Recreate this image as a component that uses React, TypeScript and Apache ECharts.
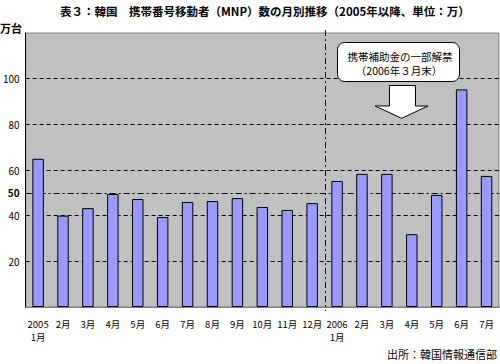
import React, { useEffect, useRef } from "react";
import * as echarts from "echarts";

const categories = [
  "2005\n1月", "2月", "3月", "4月", "5月", "6月", "7月", "8月", "9月", "10月", "11月", "12月",
  "2006\n1月", "2月", "3月", "4月", "5月", "6月", "7月",
];
const values = [
  64.9, 40, 43.3, 49.5, 47.3, 39.4, 46.0, 46.4, 47.7, 43.8, 42.5, 45.5,
  55.2, 58.3, 58.3, 31.9, 49.1, 95.3, 57.4,
];
const yLabelValues = [20, 40, 50, 60, 80, 100];
const dashedGridValues = [20, 40, 60, 80, 100];
const dashDotGridValues = [50];

const FONT = "'Noto Sans CJK JP', 'Noto Sans', sans-serif";

export default function App() {
  const ref = useRef<HTMLDivElement>(null);
  useEffect(() => {
    if (!ref.current) return;
    const chart = echarts.init(ref.current, undefined, { renderer: "svg" });
    chart.setOption({
      animation: false,
      backgroundColor: "#ffffff",
      textStyle: { fontFamily: FONT },
      title: {
        text: "表３：韓国　携帯番号移動者（MNP）数の月別推移（2005年以降、単位：万）",
        left: 55,
        top: 0,
        textStyle: { fontSize: 11.5, fontWeight: "bold", color: "#000", fontFamily: FONT },
      },
      grid: {
        left: 23,
        right: 1,
        top: 33,
        bottom: 57,
        show: true,
        backgroundColor: "#C0C0C0",
        borderColor: "#808080",
        borderWidth: 1,
      },
      xAxis: {
        type: "category",
        data: categories,
        axisLine: { lineStyle: { color: "#808080" } },
        axisTick: { show: false },
        axisLabel: {
          interval: 0,
          fontSize: 9.5,
          lineHeight: 13,
          margin: 10,
          color: "#000",
          fontFamily: FONT,
        },
      },
      yAxis: {
        type: "value",
        min: 0,
        max: 120,
        interval: 10,
        axisLine: { show: true, lineStyle: { color: "#000" } },
        axisTick: { show: false },
        splitLine: { show: false },
        axisLabel: {
          margin: 6,
          fontSize: 10,
          color: "#000",
          fontFamily: FONT,
          formatter: (v: number) =>
            yLabelValues.includes(v) ? (v === 50 ? "{b|50}" : String(v)) : "",
          rich: { b: { fontWeight: "bold", fontSize: 10, fontFamily: FONT } },
        },
      },
      series: [
        {
          type: "bar",
          data: values,
          barWidth: "46%",
          itemStyle: { color: "#9999FF", borderColor: "#000", borderWidth: 1 },
          markLine: {
            silent: true,
            z: 1,
            symbol: "none",
            label: { show: false },
            data: [
              ...dashedGridValues.map((v) => ({
                yAxis: v,
                lineStyle: { color: "#000", type: [4, 3], width: 1 },
              })),
              ...dashDotGridValues.map((v) => ({
                yAxis: v,
                lineStyle: { color: "#000", type: [6, 3, 2, 3], width: 1 },
              })),
            ],
          },
        },
      ],
    });

    const x1 = chart.convertToPixel({ xAxisIndex: 0 }, 11) as number;
    const x2 = chart.convertToPixel({ xAxisIndex: 0 }, 12) as number;
    const xs = Math.round((x1 + x2) / 2) + 0.5;

    chart.setOption({
      graphic: [
        {
          type: "line",
          shape: { x1: xs, y1: 30, x2: xs, y2: 311 },
          style: { stroke: "#000", lineWidth: 1, lineDash: [6, 3, 2, 3] },
          z: 10,
        },
        {
          type: "text",
          left: 0,
          top: 22,
          style: {
            text: "万台",
            fontSize: 11,
            fontWeight: "bold",
            fill: "#000",
            fontFamily: FONT,
          },
        },
        {
          type: "rect",
          shape: { x: 337.5, y: 42.5, width: 122, height: 39, r: 7 },
          style: { fill: "#fff", stroke: "#000", lineWidth: 1 },
          z: 20,
        },
        {
          type: "text",
          x: 400,
          y: 56,
          style: {
            text: "携帯補助金の一部解禁",
            fontSize: 10.5,
            fill: "#000",
            align: "center",
            verticalAlign: "middle",
            fontFamily: FONT,
          },
          z: 21,
        },
        {
          type: "text",
          x: 399,
          y: 70,
          style: {
            text: "（2006年３月末）",
            fontSize: 10.5,
            fill: "#000",
            align: "center",
            verticalAlign: "middle",
            fontFamily: FONT,
          },
          z: 21,
        },
        {
          type: "polygon",
          shape: {
            points: [
              [389.5, 85.5],
              [415.5, 85.5],
              [415.5, 106],
              [428, 106],
              [401.7, 118.3],
              [375, 106],
              [389.5, 106],
            ],
          },
          style: { fill: "#fff", stroke: "#000", lineWidth: 1 },
          z: 20,
        },
        {
          type: "text",
          right: 3,
          top: 348,
          style: {
            text: "出所：韓国情報通信部",
            fontSize: 11,
            fill: "#000",
            fontFamily: FONT,
          },
        },
      ],
    });

    return () => chart.dispose();
  }, []);
  return (
    <div
      ref={ref}
      style={{ position: "fixed", left: 0, top: 0, width: 500, height: 364 }}
    />
  );
}
